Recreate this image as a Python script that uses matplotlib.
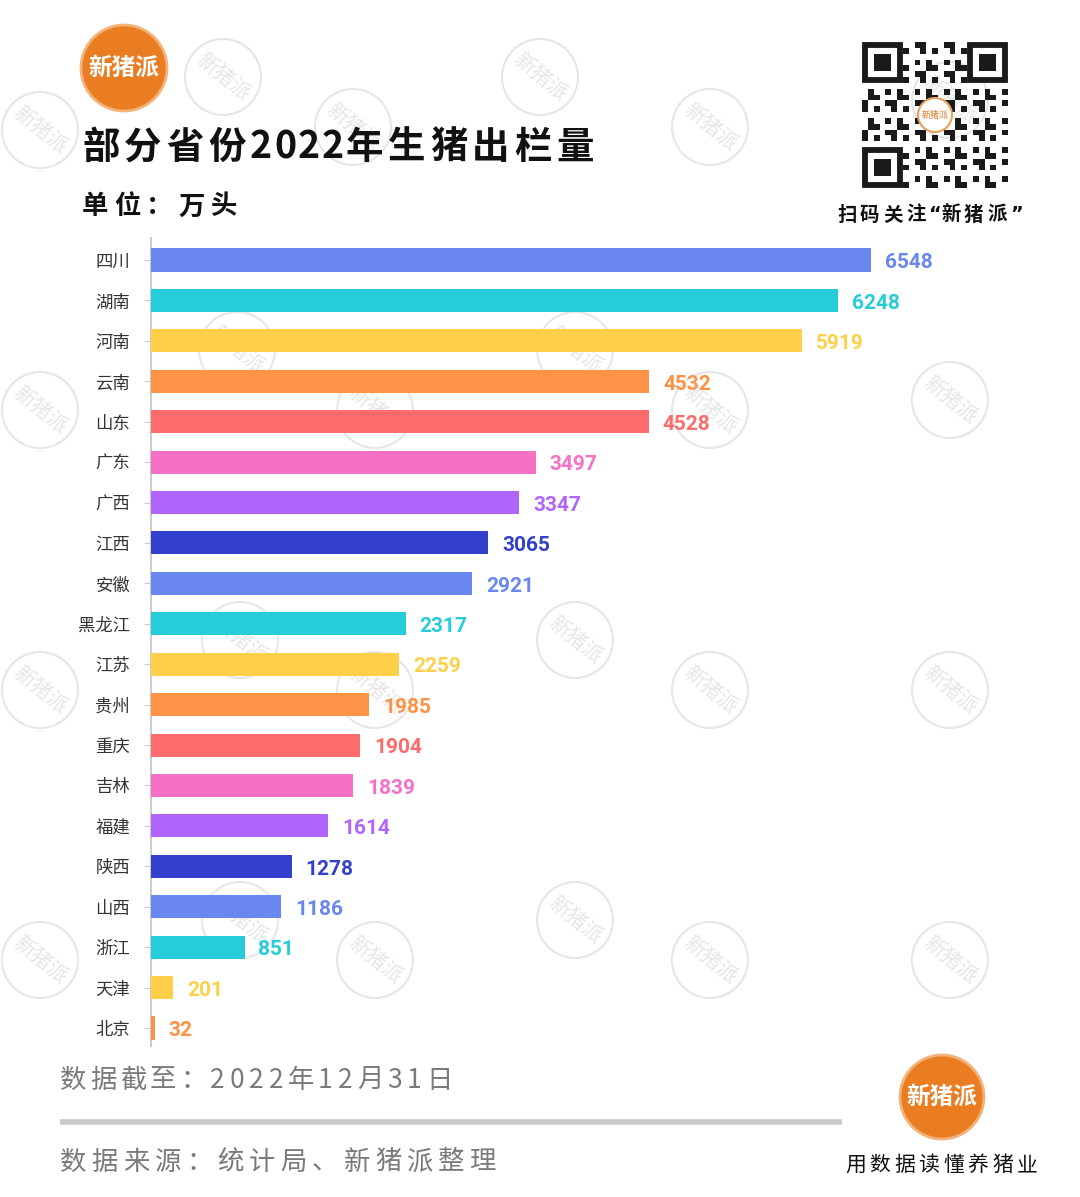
import numpy as np
import matplotlib.pyplot as plt
from matplotlib.patches import Circle, Rectangle

plt.rcParams['font.family'] = ['Noto Sans CJK SC', 'DejaVu Sans']

# 数据
provinces = ['四川', '湖南', '河南', '云南', '山东', '广东', '广西', '江西', '安徽', '黑龙江',
             '江苏', '贵州', '重庆', '吉林', '福建', '陕西', '山西', '浙江', '天津', '北京']
output = [6548, 6248, 5919, 4532, 4528, 3497, 3347, 3065, 2921, 2317,
          2259, 1985, 1904, 1839, 1614, 1278, 1186, 851, 201, 32]
palette = ['#6a87f0', '#27ccd9', '#fed04a', '#fd9347', '#fd6c6c', '#f670c6', '#b066fa', '#3340cc']

W, H = 1080, 1197
fig = plt.figure(figsize=(W / 100, H / 100), dpi=100)
fig.patch.set_facecolor('white')

# 背景层（像素坐标）
bg = fig.add_axes([0, 0, 1, 1])
bg.set_xlim(0, W)
bg.set_ylim(H, 0)
bg.axis('off')

# 水印
wm_pos = [(223, 77), (353, 127), (540, 77), (710, 127), (950, 100), (40, 130),
          (237, 350), (375, 410), (40, 410), (575, 350), (710, 410), (950, 400),
          (240, 640), (40, 690), (375, 690), (575, 640), (710, 690), (950, 690),
          (240, 920), (40, 960), (375, 960), (575, 920), (710, 960), (950, 960)]
for (x, y) in wm_pos:
    bg.add_patch(Circle((x, y), 38, fill=False, ec='#e6e6e6', lw=1.5, zorder=0))
    bg.text(x, y, '新猪派', fontsize=15, color='#e6e6e6', rotation=-40,
            ha='center', va='center', zorder=0)


def logo(x, y, r, fs):
    bg.add_patch(Circle((x, y), r, fc='#ea7d22', ec='#f2b27a', lw=2, zorder=2))
    bg.text(x, y, '新猪派', fontsize=fs, color='white', fontweight='bold',
            ha='center', va='center', zorder=3)


logo(124, 68, 43, 17)
logo(942, 1097, 42, 17)


def spaced(text, x, y, adv_cjk, adv_num, **kw):
    # 逐字排版，模拟原图的字距
    for ch in text:
        if ch in '“”':
            bg.text(x, y, ch, ha='left', va='center', **{**kw, 'family': 'DejaVu Sans'})
            x += adv_num
            continue
        bg.text(x, y, ch, ha='left', va='center', **kw)
        x += adv_num if ch.isascii() else adv_cjk


spaced('部分省份2022年生猪出栏量', 82, 147, 42, 24, fontsize=27, fontweight='bold', color='#111111')
spaced('单位：万头', 82, 207, 32, 32, fontsize=19, fontweight='bold', color='#111111')
spaced('扫码关注“新猪派”', 837, 215, 23, 12, fontsize=14, fontweight='bold', color='#111111')

# 二维码（示意）
qx, qy, qs, n = 862, 42, 146, 25
m = qs / n
for i in range(n):
    for j in range(n):
        if ((i * 7 + j * 13 + i * j) % 5) in (0, 2):
            bg.add_patch(Rectangle((qx + j * m, qy + i * m), m, m, fc='#1a1a1a', ec='none'))
for (fx, fy) in [(0, 0), (n - 7, 0), (0, n - 7)]:
    bg.add_patch(Rectangle((qx + fx * m, qy + fy * m), 7 * m, 7 * m, fc='white', ec='none'))
    bg.add_patch(Rectangle((qx + (fx + 0.5) * m, qy + (fy + 0.5) * m), 6 * m, 6 * m,
                           fc='none', ec='#1a1a1a', lw=m * 0.72))
    bg.add_patch(Rectangle((qx + (fx + 2) * m, qy + (fy + 2) * m), 3 * m, 3 * m, fc='#1a1a1a', ec='none'))
bg.add_patch(Circle((qx + qs / 2, qy + qs / 2), 17, fc='white', ec='#e8a060', lw=1.5, zorder=3))
bg.text(qx + qs / 2, qy + qs / 2, '新猪派', fontsize=6.5, color='#e07a20', ha='center', va='center', zorder=4)

# 页脚
spaced('数据截至：2022年12月31日', 60, 1080, 30, 19.5, fontsize=19, color='#7a7a7a', fontweight='light')
bg.plot([60, 842], [1122, 1122], color='#c9c9c9', lw=4, solid_capstyle='butt')
spaced('数据来源：统计局、新猪派整理', 60, 1162, 31.5, 16, fontsize=19, color='#7a7a7a', fontweight='light')
spaced('用数据读懂养猪业', 845, 1165, 24.5, 24.5, fontsize=15, color='#111111', fontweight='medium')

# 条形图
ax_left, ax_right, ax_top, ax_bot = 151, 1040, 238, 1046
ax = fig.add_axes([ax_left / W, 1 - ax_bot / H, (ax_right - ax_left) / W, (ax_bot - ax_top) / H])
ax.patch.set_alpha(0)
ypos = np.arange(len(provinces))
colors = [palette[i % len(palette)] for i in range(len(provinces))]
ax.barh(ypos, output, height=0.57, color=colors, zorder=3)
xmax = 6548 * (ax_right - ax_left) / 720
ax.set_xlim(0, xmax)
ax.set_ylim(19.445, -0.544)
ax.set_yticks(ypos)
ax.set_yticklabels(provinces, fontsize=12.5, color='#333333', fontweight='medium')
ax.tick_params(axis='y', length=5, color='#cccccc', pad=10)
ax.set_xticks([])
for s in ['top', 'right', 'bottom']:
    ax.spines[s].set_visible(False)
ax.spines['left'].set_color('#cccccc')
ax.spines['left'].set_linewidth(1.5)

for y, v, c in zip(ypos, output, colors):
    ax.annotate(str(v), (v, y), xytext=(10, -2), textcoords='offset points',
                ha='left', va='center', fontsize=15, fontweight='bold', color=c,
                family=['Roboto', 'DejaVu Sans'])

fig.savefig('out.png', dpi=100, facecolor='white')
